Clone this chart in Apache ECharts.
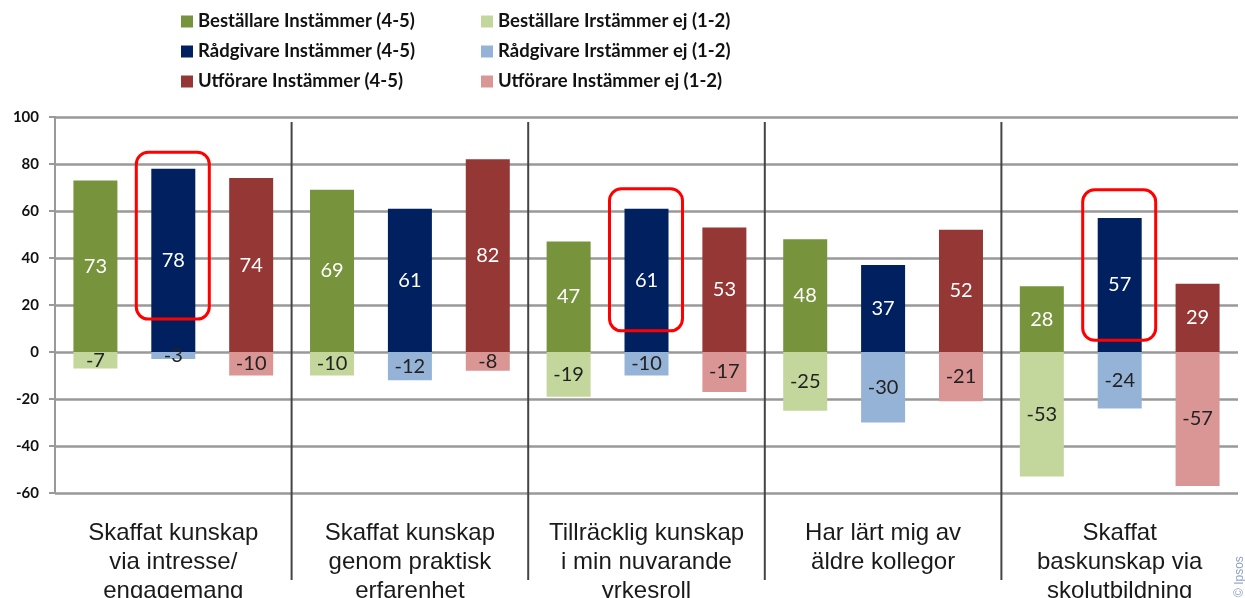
<!DOCTYPE html>
<html>
<head>
<meta charset="utf-8">
<script src="https://cdn.jsdelivr.net/npm/echarts@6/dist/echarts.min.js"></script>
<style>
  html, body { margin: 0; padding: 0; background: #fff; }
  #chart { width: 1245px; height: 598px; }
</style>
</head>
<body>
<div id="chart"></div>
<script>
const categories = [
  'Skaffat kunskap\nvia intresse/\nengagemang',
  'Skaffat kunskap\ngenom praktisk\nerfarenhet',
  'Tillräcklig kunskap\ni min nuvarande\nyrkesroll',
  'Har lärt mig av\näldre kollegor',
  'Skaffat\nbaskunskap via\nskolutbildning'
];
const bestallareAgree = [73, 69, 47, 48, 28];
const radgivareAgree = [78, 61, 61, 37, 57];
const utforareAgree = [74, 82, 53, 52, 29];
const bestallareDisagree = [-7, -10, -19, -25, -53];
const radgivareDisagree = [-3, -12, -10, -30, -24];
const utforareDisagree = [-10, -8, -17, -21, -57];
const yTicks = [-60, -40, -20, 0, 20, 40, 60, 80, 100];

// highlighted Rådgivare bars: category index and value span of the frame
const highlights = [
  { cat: 0, from: 14, to: 85 },
  { cat: 2, from: 9, to: 69.5 },
  { cat: 4, from: 5, to: 69 }
];

const chart = echarts.init(document.getElementById('chart'));

const labelFont = { fontFamily: 'Lato', fontSize: 20 };

function bar(name, data, stack, color, textColor) {
  return {
    name: name,
    type: 'bar',
    stack: stack,
    data: data,
    barWidth: 44,
    barGap: '77%',
    itemStyle: { color: color },
    label: {
      show: true,
      position: 'inside',
      color: textColor,
      ...labelFont
    }
  };
}

const legendText = { fontFamily: 'Lato', fontWeight: 'bold', fontSize: 18.5, color: '#111', lineHeight: 18 };

const option = {
  animation: false,
  legend: [
    {
      orient: 'vertical',
      left: 176,
      top: 7,
      itemWidth: 12,
      itemHeight: 12,
      itemGap: 11,
      icon: 'rect',
      textStyle: legendText,
      data: ['Beställare Instämmer (4-5)', 'Rådgivare Instämmer (4-5)', 'Utförare Instämmer (4-5)']
    },
    {
      orient: 'vertical',
      left: 476,
      top: 7,
      itemWidth: 12,
      itemHeight: 12,
      itemGap: 11,
      icon: 'rect',
      textStyle: legendText,
      data: ['Beställare Irstämmer ej (1-2)', 'Rådgivare Irstämmer ej (1-2)', 'Utförare Instämmer ej (1-2)']
    }
  ],
  grid: { left: 55, right: 7, top: 117, bottom: 105, containLabel: false, outerBoundsMode: 'none' },
  xAxis: {
    type: 'category',
    data: categories,
    axisLine: { show: false },
    axisTick: { show: false },
    axisLabel: {
      interval: 0,
      margin: 26,
      verticalAlign: 'top',
      fontFamily: 'Liberation Sans',
      fontSize: 24,
      lineHeight: 29,
      color: '#1a1a1a'
    }
  },
  yAxis: {
    type: 'value',
    min: yTicks[0],
    max: yTicks[yTicks.length - 1],
    interval: 20,
    axisLine: { show: true, lineStyle: { color: '#999', width: 2 } },
    axisTick: { show: true, length: 6, lineStyle: { color: '#999', width: 2 } },
    splitLine: { lineStyle: { color: '#999', width: 2.5 } },
    axisLabel: {
      margin: 16,
      fontFamily: 'Lato',
      fontWeight: 'bold',
      fontSize: 15,
      color: '#111'
    }
  },
  series: [
    bar('Beställare Instämmer (4-5)', bestallareAgree, 'b', '#77933C', '#fff'),
    bar('Rådgivare Instämmer (4-5)', radgivareAgree, 'r', '#002060', '#fff'),
    bar('Utförare Instämmer (4-5)', utforareAgree, 'u', '#953735', '#fff'),
    bar('Beställare Irstämmer ej (1-2)', bestallareDisagree, 'b', '#C3D69B', '#222'),
    bar('Rådgivare Irstämmer ej (1-2)', radgivareDisagree, 'r', '#95B3D7', '#222'),
    bar('Utförare Instämmer ej (1-2)', utforareDisagree, 'u', '#D99694', '#222')
  ]
};

chart.setOption(option);

// separators between categories and highlight frames, placed from the axes
const graphics = [];
for (let i = 0; i < categories.length - 1; i++) {
  const x = (chart.convertToPixel({ xAxisIndex: 0 }, i) + chart.convertToPixel({ xAxisIndex: 0 }, i + 1)) / 2;
  graphics.push({
    type: 'line',
    shape: { x1: x, y1: 122, x2: x, y2: 580 },
    style: { stroke: '#444', lineWidth: 2 },
    z: 1
  });
}
highlights.forEach(function (h) {
  const cx = chart.convertToPixel({ xAxisIndex: 0 }, h.cat);
  const yTop = chart.convertToPixel({ yAxisIndex: 0 }, h.to);
  const yBot = chart.convertToPixel({ yAxisIndex: 0 }, h.from);
  graphics.push({
    type: 'rect',
    shape: { x: cx - 37, y: yTop, width: 73, height: yBot - yTop, r: 12 },
    style: { fill: 'none', stroke: '#FF0000', lineWidth: 3 },
    z: 10
  });
});
graphics.push({
  type: 'text',
  x: 1234,
  y: 597,
  rotation: Math.PI / 2,
  style: {
    text: '© Ipsos',
    fill: '#8fa3c4',
    font: '12px "Liberation Sans"',
    textAlign: 'left',
    textVerticalAlign: 'top'
  }
});
chart.setOption({ graphic: graphics });
</script>
</body>
</html>
